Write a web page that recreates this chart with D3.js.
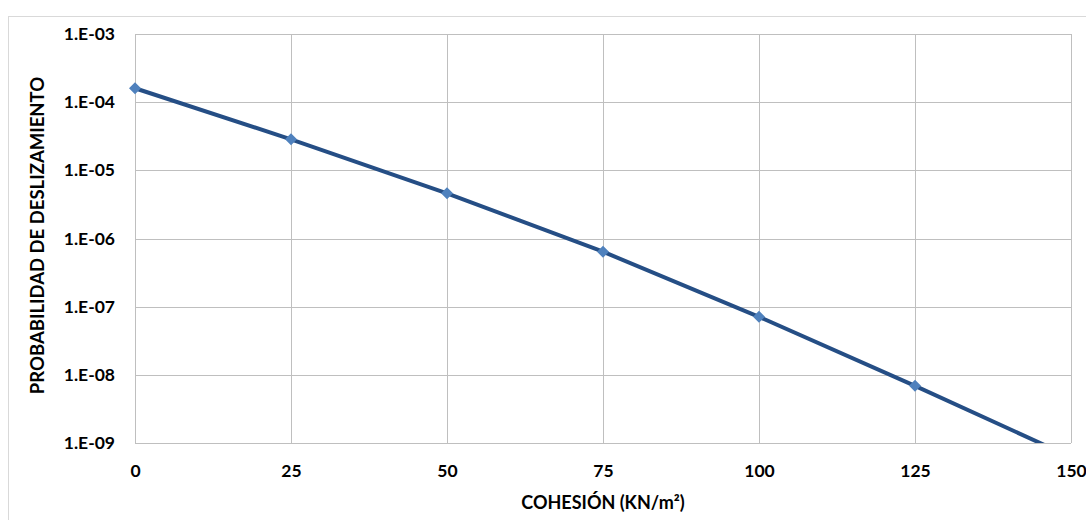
<!DOCTYPE html>
<html>
<head>
<meta charset="utf-8">
<script src="https://cdn.jsdelivr.net/npm/d3@7"></script>
<style>
  body { margin: 0; background: #fff; }
  text { font-family: Lato, "Open Sans", sans-serif; font-weight: 700; fill: #000; }
</style>
</head>
<body>
<div class="container"></div>
<script>
const cohesion = [0, 25, 50, 75, 100, 125, 150];
const probability = [1.6e-4, 2.85e-5, 4.6e-6, 6.4e-7, 7.1e-8, 6.9e-9, 6.2e-10];
const xTicks = [0, 25, 50, 75, 100, 125, 150];
const yTicks = [1e-3, 1e-4, 1e-5, 1e-6, 1e-7, 1e-8, 1e-9];
const yTickLabels = ["1.E-03", "1.E-04", "1.E-05", "1.E-06", "1.E-07", "1.E-08", "1.E-09"];

const W = 1086, H = 520;
const margin = ({top: 34, right: 15, bottom: 77, left: 135});
const width = W - margin.left - margin.right,
      height = H - margin.top - margin.bottom;

const root = d3.select(".container")
               .append("svg")
               .attr("width", W)
               .attr("height", H);

// chart frame
root.append("rect")
    .attr("x", 8.5).attr("y", 16.5)
    .attr("width", W + 10).attr("height", H + 10)
    .attr("fill", "none")
    .attr("stroke", "#d9d9d9");

const svg = root.append("g")
                .attr("transform", `translate(${margin.left},${margin.top})`);

const xScale = d3.scaleLinear().domain([0, 150]).range([0, width]);
const yScale = d3.scaleLog().domain([1e-9, 1e-3]).range([height, 0]);

// grid
svg.append("g")
   .selectAll("line")
   .data(yTicks)
   .join("line")
   .attr("x1", 0).attr("x2", width)
   .attr("y1", d => Math.round(yScale(d)) + 0.5)
   .attr("y2", d => Math.round(yScale(d)) + 0.5)
   .attr("stroke", "#bfbfbf");
svg.append("g")
   .selectAll("line")
   .data(xTicks)
   .join("line")
   .attr("y1", 0).attr("y2", height)
   .attr("x1", d => Math.round(xScale(d)) + 0.5)
   .attr("x2", d => Math.round(xScale(d)) + 0.5)
   .attr("stroke", "#bfbfbf");

// axes
const xAxis = d3.axisBottom(xScale).tickValues(xTicks).tickSize(0).tickPadding(22);
const yAxis = d3.axisLeft(yScale).tickValues(yTicks)
                .tickFormat((d, i) => yTickLabels[i]).tickSize(0).tickPadding(20);

svg.append("g")
   .attr("transform", `translate(0,${height})`)
   .call(xAxis)
   .call(g => g.select(".domain").remove())
   .call(g => g.selectAll("text").attr("font-size", 17.5));
svg.append("g")
   .call(yAxis)
   .call(g => g.select(".domain").remove())
   .call(g => g.selectAll("text").attr("font-size", 17.5));

// axis titles
svg.append("text")
   .attr("x", width / 2)
   .attr("y", height + 66)
   .attr("text-anchor", "middle")
   .attr("font-size", 18)
   .text("COHESIÓN (KN/m²)");
svg.append("text")
   .attr("transform", `translate(${-91},${height / 2 - 3}) rotate(-90)`)
   .attr("text-anchor", "middle")
   .attr("font-size", 18.5)
   .text("PROBABILIDAD DE DESLIZAMIENTO");

// clip to plot area
svg.append("clipPath").attr("id", "plot")
   .append("rect").attr("x", -10).attr("y", -10)
   .attr("width", width + 20).attr("height", height + 10);

const line = d3.line()
               .x((d, i) => xScale(cohesion[i]))
               .y(d => yScale(d));

const plot = svg.append("g").attr("clip-path", "url(#plot)");
plot.append("path")
    .datum(probability)
    .attr("fill", "none")
    .attr("stroke", "#254e85")
    .attr("stroke-width", 4)
    .attr("d", line);

plot.selectAll(".pt")
    .data(probability)
    .join("path")
    .attr("class", "pt")
    .attr("transform", (d, i) => `translate(${xScale(cohesion[i])},${yScale(d)})`)
    .attr("d", d3.symbol(d3.symbolDiamond2, 92))
    .attr("fill", "#4f81bd");
</script>
</body>
</html>
